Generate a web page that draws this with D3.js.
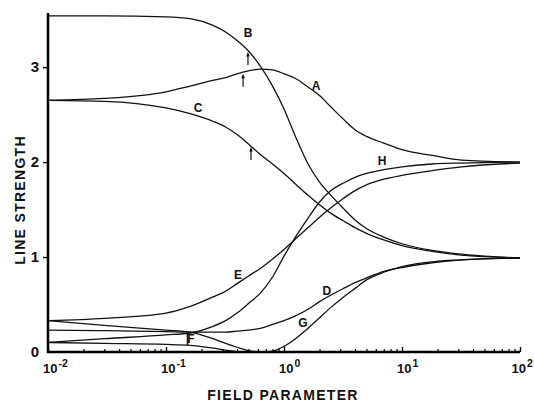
<!DOCTYPE html>
<html>
<head>
<meta charset="utf-8">
<script src="https://cdn.jsdelivr.net/npm/d3@7"></script>
<style>
    body { margin: 0; background: #fff; }
    svg { display: block; font-family: "Liberation Sans", Arial, sans-serif; }
</style>
</head>
<body>
<div id="chart"></div>
<script>
// Field parameter grid shared by every curve
var fieldParam = [0.01, 0.03, 0.1, 0.16, 0.25, 0.32, 0.4, 0.5, 0.63, 0.8, 1, 1.25, 1.6, 2, 2.5, 3.2, 4, 5, 7, 10, 18, 32, 100];

// Line strength of each curve
var lineA = [2.65, 2.67, 2.74, 2.80, 2.86, 2.89, 2.93, 2.96, 2.98, 2.97, 2.93, 2.88, 2.79, 2.70, 2.58, 2.45, 2.34, 2.27, 2.20, 2.13, 2.07, 2.02, 2.00];
var lineB = [3.54, 3.54, 3.53, 3.51, 3.44, 3.37, 3.28, 3.17, 3.01, 2.80, 2.56, 2.27, 1.98, 1.79, 1.65, 1.51, 1.39, 1.30, 1.21, 1.14, 1.07, 1.03, 0.99];
var lineC = [2.65, 2.64, 2.57, 2.51, 2.43, 2.37, 2.29, 2.19, 2.08, 1.98, 1.88, 1.77, 1.65, 1.55, 1.46, 1.38, 1.31, 1.25, 1.18, 1.12, 1.06, 1.02, 0.99];
var lineD = [0.23, 0.225, 0.215, 0.21, 0.21, 0.21, 0.22, 0.23, 0.25, 0.29, 0.33, 0.38, 0.45, 0.53, 0.60, 0.67, 0.73, 0.78, 0.85, 0.89, 0.94, 0.97, 0.99];
var lineE = [0.33, 0.355, 0.41, 0.48, 0.58, 0.64, 0.72, 0.80, 0.88, 0.98, 1.08, 1.19, 1.31, 1.42, 1.52, 1.62, 1.70, 1.76, 1.82, 1.86, 1.91, 1.95, 1.99];
var lineF = [0.10, 0.09, 0.08, 0.07, 0.04, 0.02, 0.005, 0, 0, 0, 0, 0, 0, 0, 0, 0, 0, 0, 0, 0, 0, 0, 0];
var lineG = [0.33, 0.28, 0.23, 0.21, 0.14, 0.09, 0.05, 0.015, 0.0, 0.01, 0.06, 0.14, 0.25, 0.36, 0.47, 0.58, 0.67, 0.76, 0.84, 0.90, 0.95, 0.97, 0.99];
var lineH = [0.10, 0.14, 0.18, 0.20, 0.27, 0.33, 0.41, 0.51, 0.62, 0.79, 1.01, 1.21, 1.41, 1.58, 1.70, 1.78, 1.84, 1.88, 1.92, 1.95, 1.98, 1.99, 2.00];

var curveNames = ['A', 'B', 'C', 'D', 'E', 'F', 'G', 'H'];
var curveValues = [lineA, lineB, lineC, lineD, lineE, lineF, lineG, lineH];

// Curve labels (field parameter, line strength)
var labelX = [1.87, 0.495, 0.187, 2.31, 0.407, 0.163, 1.45, 6.78];
var labelY = [2.80, 3.36, 2.57, 0.65, 0.81, 0.137, 0.305, 2.01];

// Small arrows pointing up at curves A, B, C
var arrowX = [0.45, 0.495, 0.525];
var arrowY = [2.93, 3.16, 2.16];

// Axis ticks
var yTicks = [0, 1, 2, 3];
var xDecades = [0.01, 0.1, 1, 10, 100];
var xExponents = ['-2', '-1', '0', '1', '2'];

var svgWidth = 534;
var svgHeight = 402;

var svg = d3.select('#chart')
    .append('svg')
    .attr('width', svgWidth)
    .attr('height', svgHeight);

var xScale = d3.scaleLog().domain([0.01, 100]).range([48, 520]);
var yScale = d3.scaleLinear().domain([0, 3.57]).range([352, 13]);

// Curves
var line = d3.line()
    .x((d) => xScale(d[0]))
    .y((d) => yScale(d[1]))
    .curve(d3.curveMonotoneX);

curveValues.forEach((vals) => {
    svg.append('path')
        .datum(fieldParam.map((x, i) => [x, vals[i]]))
        .attr('d', line)
        .attr('fill', 'none')
        .attr('stroke', '#111')
        .attr('stroke-width', 1.3);
});

// Minor x ticks (2..9 in each decade)
var minorTicks = [];
xDecades.slice(0, -1).forEach((d) => {
    for (var k = 2; k <= 9; k++) minorTicks.push(d * k);
});

var minorAxis = svg.append('g')
    .attr('transform', 'translate(0, 352)')
    .call(d3.axisBottom(xScale).tickValues(minorTicks).tickSize(-3).tickFormat(''));
minorAxis.select('.domain').remove();
minorAxis.selectAll('line').attr('stroke', '#000').attr('stroke-width', 1.2);

var majorAxis = svg.append('g')
    .attr('transform', 'translate(0, 352)')
    .call(d3.axisBottom(xScale).tickValues(xDecades).tickSize(-5).tickFormat(''));
majorAxis.select('.domain').remove();
majorAxis.selectAll('line').attr('stroke', '#000').attr('stroke-width', 1.4);

// x tick labels 10^n
var xLabels = svg.append('g');
xDecades.forEach((d, i) => {
    var t = xLabels.append('text')
        .attr('x', xScale(d) - 5)
        .attr('y', 373)
        .attr('font-weight', 'bold')
        .attr('font-size', 13)
        .attr('fill', '#111');
    t.append('tspan').text('10');
    t.append('tspan')
        .attr('dy', -6)
        .attr('dx', 1)
        .attr('font-size', 10.5)
        .text(xExponents[i]);
    // keep the last label inside the picture
    var box = t.node().getBBox();
    if (box.x + box.width > svgWidth - 1) {
        t.attr('x', xScale(d) - 5 - (box.x + box.width - svgWidth + 1));
    }
});

// y axis
var yAxis = svg.append('g')
    .attr('transform', 'translate(48, 0)')
    .call(d3.axisLeft(yScale).tickValues(yTicks).tickSize(5).tickPadding(4).tickFormat(d3.format('d')));
yAxis.select('.domain').remove();
yAxis.selectAll('.tick line')
    .attr('stroke', '#000')
    .attr('stroke-width', 1.4)
    .attr('display', (d) => d === 0 ? 'none' : null);
yAxis.selectAll('.tick text')
    .attr('font-size', 15)
    .attr('font-weight', 'bold')
    .attr('fill', '#111')
    .attr('font-family', '"Liberation Sans", Arial, sans-serif');

// Axis lines
svg.append('line')
    .attr('x1', 48).attr('x2', 48)
    .attr('y1', yScale(3.57)).attr('y2', 353)
    .attr('stroke', '#000').attr('stroke-width', 2.5);
svg.append('line')
    .attr('x1', 47).attr('x2', xScale(100))
    .attr('y1', 352).attr('y2', 352)
    .attr('stroke', '#000').attr('stroke-width', 2.5);

// Arrows
arrowX.forEach((x, i) => {
    var ax = xScale(x);
    var ay = yScale(arrowY[i]);
    svg.append('line')
        .attr('x1', ax).attr('x2', ax)
        .attr('y1', ay + 2).attr('y2', ay + 13)
        .attr('stroke', '#111').attr('stroke-width', 1.2);
    svg.append('path')
        .attr('d', `M${ax},${ay} L${ax - 1.8},${ay + 4.5} L${ax + 1.8},${ay + 4.5} Z`)
        .attr('fill', '#111');
});

// Curve labels
curveNames.forEach((name, i) => {
    svg.append('text')
        .attr('x', xScale(labelX[i]))
        .attr('y', yScale(labelY[i]))
        .attr('dy', '0.36em')
        .attr('text-anchor', 'middle')
        .attr('font-size', 12)
        .attr('font-weight', 'bold')
        .attr('fill', '#111')
        .text(name);
});

// stem of the F label
svg.append('line')
    .attr('x1', xScale(labelX[5]) - 3.5).attr('x2', xScale(labelX[5]) - 3.5)
    .attr('y1', yScale(0.2)).attr('y2', yScale(0.07))
    .attr('stroke', '#111').attr('stroke-width', 1.6);

// Axis titles
svg.append('text')
    .attr('x', 283)
    .attr('y', 400)
    .attr('text-anchor', 'middle')
    .attr('font-size', 14)
    .attr('font-weight', 'bold')
    .attr('letter-spacing', 1.3)
    .attr('fill', '#111')
    .text('FIELD PARAMETER');

svg.append('text')
    .attr('transform', 'translate(25, 200) rotate(-90)')
    .attr('text-anchor', 'middle')
    .attr('font-size', 14)
    .attr('font-weight', 'bold')
    .attr('letter-spacing', 1.3)
    .attr('fill', '#111')
    .text('LINE STRENGTH');
</script>
</body>
</html>
